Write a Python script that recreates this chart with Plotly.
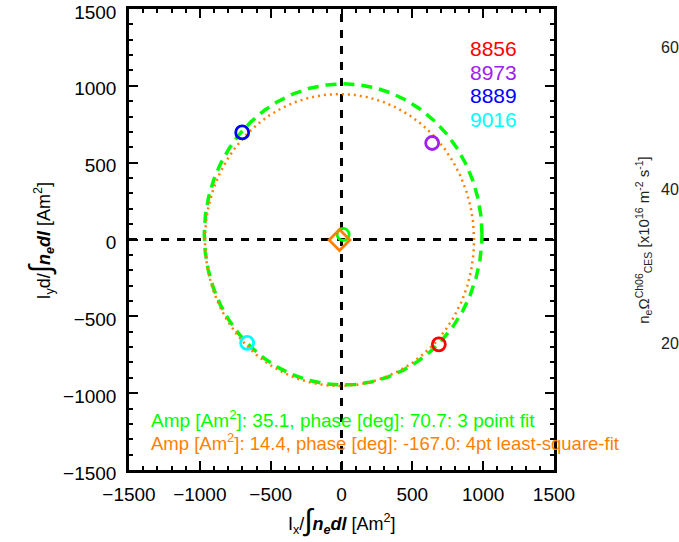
import numpy as np
import plotly.graph_objects as go

# Shot numbers and their measured dipole components
shots = ["8856", "8973", "8889", "9016"]
shot_colors = ["#FF0000", "#A020F0", "#0000FF", "#00FFFF"]
ix_vals = [687, 640, -701, -666]
iy_vals = [-682, 628, 697, -673]

# Circle fits: offset amplitude, phase and radius
fit3_amp, fit3_phase, fit3_radius = 35.1, 70.7, 980.0
fit4_amp, fit4_phase, fit4_radius = 14.4, -167.0, 950.0

axis_ticks = [-1500, -1000, -500, 0, 500, 1000, 1500]

GREEN = "#00FF00"
ORANGE = "#FF7F00"
FONT = "Liberation Sans, Arial, sans-serif"


def circle(amp, phase_deg, radius, n=721):
    cx = amp * np.cos(np.radians(phase_deg))
    cy = amp * np.sin(np.radians(phase_deg))
    t = np.linspace(0, 2 * np.pi, n)
    return cx, cy, cx + radius * np.cos(t), cy + radius * np.sin(t)


c3x, c3y, g_x, g_y = circle(fit3_amp, fit3_phase, fit3_radius)
c4x, c4y, o_x, o_y = circle(fit4_amp, fit4_phase, fit4_radius)

fig = go.Figure()

# reference axes through the origin
fig.add_hline(y=0, line=dict(color="black", width=3, dash="8px,8px"), layer="below")
fig.add_vline(x=0, line=dict(color="black", width=3, dash="8px,8px"), layer="below")

fig.add_trace(go.Scatter(x=g_x, y=g_y, mode="lines",
                         line=dict(color=GREEN, width=3.5, dash="11px,7px"),
                         hoverinfo="skip"))
fig.add_trace(go.Scatter(x=o_x, y=o_y, mode="lines",
                         line=dict(color=ORANGE, width=2.5, dash="2px,4px"),
                         hoverinfo="skip"))

for s, c, x, y in zip(shots, shot_colors, ix_vals, iy_vals):
    fig.add_trace(go.Scatter(x=[x], y=[y], mode="markers", name=s,
                             marker=dict(symbol="circle-open", size=13,
                                         color=c, line=dict(color=c, width=2.8))))

# fitted offsets
fig.add_trace(go.Scatter(x=[c3x], y=[c3y], mode="markers",
                         marker=dict(symbol="circle-open", size=12, color=GREEN,
                                     line=dict(color=GREEN, width=2.8))))
fig.add_trace(go.Scatter(x=[c4x], y=[c4y], mode="markers",
                         marker=dict(symbol="diamond-open", size=16, color=ORANGE,
                                     line=dict(color=ORANGE, width=2.8))))

annotations = []
# shot legend
for i, (s, c) in enumerate(zip(shots, shot_colors)):
    annotations.append(dict(xref="paper", yref="paper", x=0.798, y=0.914 - i * 0.0513,
                            text=s, showarrow=False, xanchor="left", yanchor="middle",
                            font=dict(family=FONT, size=21, color=c)))

annotations.append(dict(xref="paper", yref="paper", x=0.047, y=0.110,
                        text=f"Amp [Am<sup>2</sup>]: {fit3_amp:.1f}, phase [deg]: {fit3_phase:.1f}: 3 point fit",
                        showarrow=False, xanchor="left", yanchor="middle",
                        font=dict(family=FONT, size=19, color=GREEN)))
annotations.append(dict(xref="paper", yref="paper", x=0.047, y=0.060,
                        text=f"Amp [Am<sup>2</sup>]: {fit4_amp:.1f}, phase [deg]: {fit4_phase:.1f}: 4pt least-square-fit",
                        showarrow=False, xanchor="left", yanchor="middle",
                        font=dict(family=FONT, size=18.5, color=ORANGE)))

# axis titles
integral = "<span style='font-size:30px'>∫</span>"
annotations.append(dict(xref="paper", yref="paper", x=0.5, y=-0.108,
                        text=f"I<sub>x</sub>/{integral}<b><i>n<sub>e</sub>dl</i></b> [Am<sup>2</sup>]",
                        showarrow=False, xanchor="center", yanchor="middle",
                        font=dict(family=FONT, size=18, color="black")))
annotations.append(dict(xref="paper", yref="paper", x=-0.209, y=0.498,
                        text=f"I<sub>y</sub>d/{integral}<b><i>n<sub>e</sub>dl</i></b> [Am<sup>2</sup>]",
                        showarrow=False, xanchor="center", yanchor="middle", textangle=-90,
                        font=dict(family=FONT, size=18, color="black")))

# neighbouring panel axis
for lbl, yy in zip(["60", "40", "20"], [0.917, 0.608, 0.275]):
    annotations.append(dict(xref="paper", yref="paper", x=1.248, y=yy, text=lbl,
                            showarrow=False, xanchor="left", yanchor="middle",
                            font=dict(family=FONT, size=16, color="#222222")))
annotations.append(dict(xref="paper", yref="paper", x=1.21, y=0.50,
                        text="n<sub>e</sub>Ω<sup>Ch06</sup><sub>CES</sub> [x10<sup>16</sup> m<sup>-2</sup> s<sup>-1</sup>]",
                        showarrow=False, xanchor="center", yanchor="middle", textangle=-90,
                        font=dict(family=FONT, size=15, color="#222222")))

axis_common = dict(range=[-1500, 1500], tickvals=axis_ticks, ticks="inside",
                   ticklen=9, tickwidth=2, tickcolor="black",
                   showline=True, linecolor="black", linewidth=2.5, mirror="ticks",
                   showgrid=False, zeroline=False, automargin=False,
                   ticklabeloverflow="allow",
                   minor=dict(ticks="inside", dtick=100, ticklen=4, tickwidth=2,
                              tickcolor="black", showgrid=False),
                   tickfont=dict(family=FONT, size=19, color="black"))

fig.update_layout(
    width=679, height=542,
    margin=dict(l=129, r=125, t=9, b=72),
    paper_bgcolor="white", plot_bgcolor="white",
    showlegend=False,
    xaxis=dict(axis_common, ticklabelstandoff=5),
    yaxis=dict(axis_common, ticklabelstandoff=6, ticklabelshift=3),
    annotations=annotations,
)

fig.write_html("out.html")
